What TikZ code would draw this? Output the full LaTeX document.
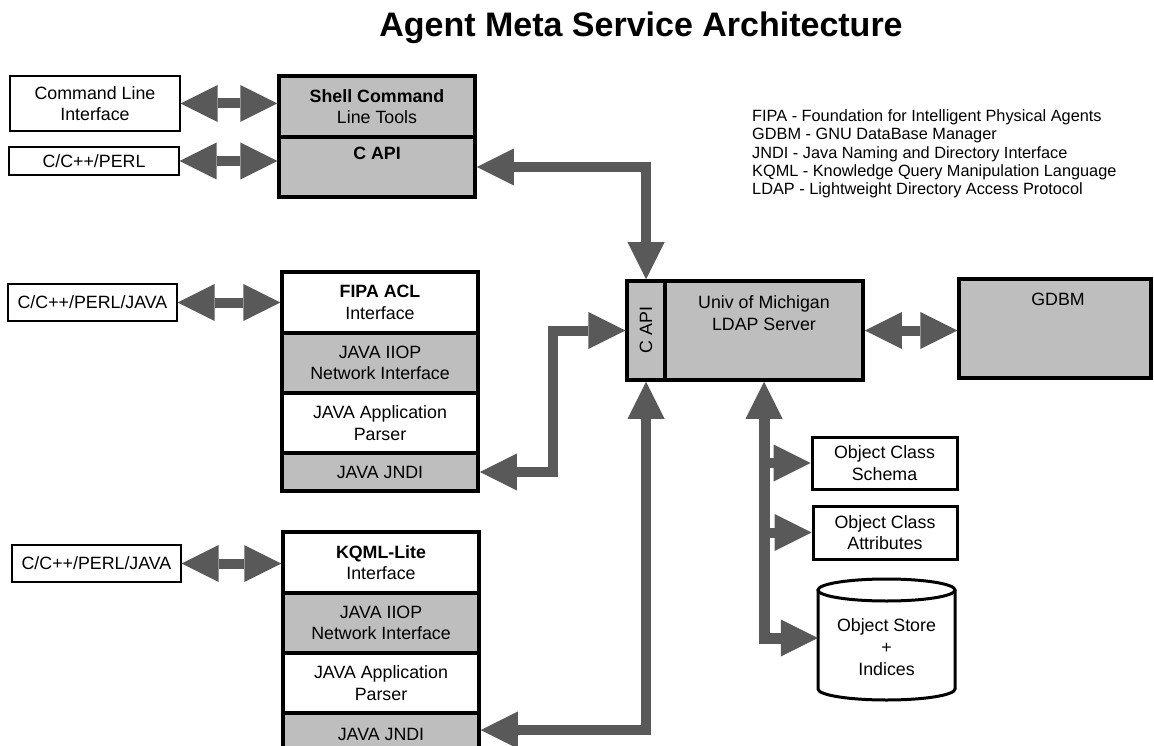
\documentclass[tikz,border=0pt]{standalone}
\usepackage{fontspec}
\setmainfont{Liberation Sans}
\usetikzlibrary{arrows.meta,calc}
\definecolor{agray}{RGB}{89,89,89}
\definecolor{fgray}{RGB}{190,190,190}
\newcommand\mybxfont{\fontsize{17.8pt}{21.7pt}\selectfont}
\newcommand\mylgfont{\fontsize{16.3pt}{18.3pt}\selectfont}
\newcommand\myttlfont{\fontsize{34pt}{40pt}\selectfont\bfseries}
\tikzset{
  ah/.tip={Triangle[length=37pt,width=37pt,line width=0pt]},
  sz/.style 2 args={minimum width=#1pt, minimum height=#2pt},
  bx/.style={draw=black, inner sep=0pt, align=center, font=\mybxfont},
  thinbox/.style={bx, line width=1.4pt, fill=white},
  wbox/.style={bx, line width=3.5pt, fill=white},
  gbox/.style={bx, line width=3.5pt, fill=fgray},
  obox/.style={bx, line width=3pt, fill=white},
  txt/.style={inner sep=0pt, font=\mybxfont, anchor=base},
  legtxt/.style={inner sep=0pt, font=\mylgfont, anchor=base west},
  fat/.style={draw=agray, line width=10pt},
}
\begin{document}
\begin{tikzpicture}[x=1pt,y=-1pt]
\useasboundingbox (0,0) rectangle (1154,746);
\clip (0,0) rectangle (1154,746);

% title
\node[anchor=base, inner sep=0pt, font=\myttlfont] (title) at (641,37) {Agent Meta Service Architecture};

% legend
\node[legtxt] (leg1) at (752,121.7) {FIPA - Foundation for Intelligent Physical Agents};
\node[legtxt] (leg2) at (752,140) {GDBM - GNU DataBase Manager};
\node[legtxt] (leg3) at (752,158.3) {JNDI - Java Naming and Directory Interface};
\node[legtxt] (leg4) at (752,176.6) {KQML - Knowledge Query Manipulation Language};
\node[legtxt] (leg5) at (752,195) {LDAP - Lightweight Directory Access Protocol};

% top left
\node[thinbox, sz={170}{55}] (cli) at (95,103.5) {Command Line\\Interface};
\node[thinbox, sz={170}{28}] (cpp) at (94,161) {C/C++/PERL};
\node[gbox, sz={196}{61}] (shell) at (377,106.5) {\textbf{Shell Command}\\Line Tools};
\node[gbox, sz={196}{60}] (capi1) at (377,167) {};
\node[txt] (capi1t) at (377,160) {\bfseries C API};

% FIPA stack
\node[thinbox, sz={169}{37}] (cpj1) at (92.5,302.5) {C/C++/PERL/JAVA};
\node[wbox, sz={196}{61}] (fipa) at (380,302.5) {\textbf{FIPA ACL}\\Interface};
\node[gbox, sz={196}{60}] (iiop1) at (380,363) {JAVA IIOP\\Network Interface};
\node[wbox, sz={196}{60}] (pars1) at (380,423) {JAVA Application\\Parser};
\node[gbox, sz={196}{38}] (jndi1) at (380,472) {JAVA JNDI};

% KQML stack
\node[thinbox, sz={169}{37}] (cpj2) at (96.5,563.5) {C/C++/PERL/JAVA};
\node[wbox, sz={196}{61}] (kqml) at (381,562.5) {\textbf{KQML-Lite}\\Interface};
\node[gbox, sz={196}{60}] (iiop2) at (381,623) {JAVA IIOP\\Network Interface};
\node[wbox, sz={196}{60}] (pars2) at (381,683) {JAVA Application\\Parser};
\node[gbox, sz={196}{38}] (jndi2) at (381,732) {};
\node[txt] (jndi2t) at (381,740) {JAVA JNDI};

% LDAP server
\node[gbox, sz={38}{99}] (capi2) at (646,330.5) {};
\node[inner sep=0pt, font=\mybxfont, rotate=90] (capi2t) at (646,330) {C API};
\node[gbox, sz={198}{99}] (ldap) at (764,330.5) {};
\node[txt] (ldapt1) at (764,308) {Univ of Michigan};
\node[txt] (ldapt2) at (764,330) {LDAP Server};
\node[gbox, sz={192}{99}] (gdbm) at (1055,328.5) {};
\node[txt] (gdbmt) at (1058,305) {GDBM};

% objects
\node[obox, sz={145}{52}] (schema) at (884.5,463) {Object Class\\Schema};
\node[obox, sz={144}{53}] (attr) at (885,532.5) {Object Class\\Attributes};
\node[inner sep=0pt, sz={137}{121}] (store) at (886.5,639.5) {};
\filldraw[fill=white, line width=3pt] (818,590) -- (818,689)
  arc[start angle=180, end angle=360, x radius=68.5pt, y radius=11pt] -- (955,590);
\draw[line width=3pt, fill=white] (886.5,590) ellipse [x radius=68.5pt, y radius=11pt];
\node[align=center, inner sep=0pt, font=\mybxfont] (storet) at (886.5,647) {Object Store\\+\\Indices};

% connectors
\draw[fat, {ah}-{ah}] (cli.east) -- (cli.east -| shell.west);
\draw[fat, {ah}-{ah}] (cpp.east) -- (cpp.east -| capi1.west);
\draw[fat, {ah}-{ah}] (cpj1.east) -- (cpj1.east -| fipa.west);
\draw[fat, {ah}-{ah}] (cpj2.east) -- (cpj2.east -| kqml.west);
\draw[fat, {ah}-{ah}] (capi1.east) -- (capi1.east -| capi2.north) -- (capi2.north);
\coordinate (e1) at (553,472);
\draw[fat, {ah}-{ah}] (jndi1.east) -- (jndi1.east -| e1) -- (capi2.west -| e1) -- (capi2.west);
\draw[fat, {ah}-{ah}] (jndi2.east |- 0,730) -- (capi2.south |- 0,730) -- (capi2.south);
\draw[fat, {ah}-{ah}] (ldap.east) -- (ldap.east -| gdbm.west);
\coordinate (bus) at (764,638);
\draw[fat, line width=11pt, {ah}-{ah}] (bus |- ldap.south) -- (bus) -- (bus -| store.west);
\draw[fat, -{ah}] (schema.west -| bus) -- (schema.west);
\draw[fat, -{ah}] (attr.west -| bus) -- (attr.west);
\end{tikzpicture}
\end{document}
